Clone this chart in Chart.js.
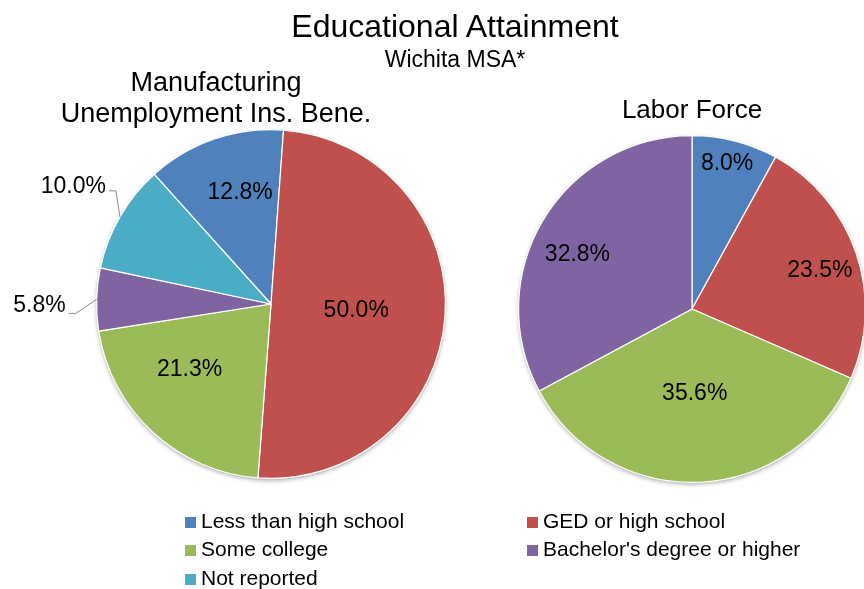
<!DOCTYPE html>
<html><head><meta charset="utf-8">
<script src="https://cdn.jsdelivr.net/npm/chart.js@4"></script>
<style>
html,body{margin:0;padding:0;background:#fff;width:864px;height:589px;overflow:hidden;position:relative;font-family:"Liberation Sans",Arial,Helvetica,sans-serif;color:#000}
canvas{position:absolute;left:0;top:0}
.t{position:absolute;white-space:nowrap;text-align:center}
.lg{position:absolute;white-space:nowrap;font-size:21px;line-height:28.5px;height:28.5px}
.sw{display:inline-block;width:11px;height:11px;margin-right:5px;vertical-align:0px}
</style></head><body>
<canvas id="c1" width="864" height="589"></canvas>
<canvas id="c2" width="900" height="589"></canvas>
<div id="texts"></div>
<script>
// ---- data ----
const categories = ["Less than high school", "GED or high school", "Some college", "Bachelor's degree or higher", "Not reported"];
const manufacturingValues = [12.8, 50.0, 21.3, 5.8, 10.0];
const laborForceValues = [8.0, 23.5, 35.6, 32.8];
const mainTitle = "Educational Attainment";
const subTitle = "Wichita MSA*";
const leftTitle = ["Manufacturing", "Unemployment Ins. Bene."];
const rightTitle = "Labor Force";

// ---- styles ----
const colors = ["#4F81BD", "#C0504D", "#9BBB59", "#8064A2", "#4BACC6"];
const FONT = '"Liberation Sans", Arial, Helvetica, sans-serif';

const texts = document.getElementById('texts');
function addText(txt, cx, top, size, lh) {
  const d = document.createElement('div');
  d.className = 't';
  d.style.left = (cx - 250) + 'px';
  d.style.width = '500px';
  d.style.top = top + 'px';
  d.style.fontSize = size + 'px';
  d.style.lineHeight = lh + 'px';
  d.innerHTML = txt;
  texts.appendChild(d);
}
addText(mainTitle, 455, 10, 32, 32);
addText(subTitle, 455, 47.5, 23, 23);
addText(leftTitle.join('<br>'), 216, 67, 27, 31);
addText(rightTitle, 692, 93.5, 26, 31);

// legend (two columns)
const legendCols = [185, 527];
const legendTop = 506.5;
categories.forEach((c, i) => {
  const d = document.createElement('div');
  d.className = 'lg';
  d.style.left = legendCols[i % 2] + 'px';
  d.style.top = (legendTop + Math.floor(i / 2) * 28.5) + 'px';
  d.innerHTML = '<span class="sw" style="background:' + colors[i] + '"></span>' + c;
  texts.appendChild(d);
});

const shadowPlugin = {
  id: 'pieShadow',
  beforeDatasetsDraw(chart) {
    const arc = chart.getDatasetMeta(0).data[0];
    const ctx = chart.ctx;
    ctx.save();
    ctx.shadowColor = 'rgba(0,0,0,0.35)';
    ctx.shadowBlur = 4;
    ctx.shadowOffsetY = 2;
    ctx.fillStyle = '#fff';
    ctx.beginPath();
    ctx.arc(arc.x, arc.y, arc.outerRadius, 0, Math.PI * 2);
    ctx.fill();
    ctx.restore();
  }
};

const labelPlugin = {
  id: 'sliceLabels',
  afterDatasetsDraw(chart, args, opts) {
    const ctx = chart.ctx;
    const meta = chart.getDatasetMeta(0);
    const ds = chart.data.datasets[0];
    ctx.save();
    ctx.font = '23px ' + FONT;
    ctx.fillStyle = '#000';
    meta.data.forEach((arc, i) => {
      const p = arc.getProps(['x', 'y', 'startAngle', 'endAngle', 'outerRadius'], true);
      const txt = ds.data[i].toFixed(1) + '%';
      const mid = (p.startAngle + p.endAngle) / 2;
      const out = opts.outside && opts.outside[i];
      if (out) {
        const ex = p.x + Math.cos(mid) * p.outerRadius;
        const ey = p.y + Math.sin(mid) * p.outerRadius;
        const bx = ex + out.dx, by = ey + out.dy;
        ctx.strokeStyle = '#8a8a8a';
        ctx.lineWidth = 1;
        ctx.beginPath();
        ctx.moveTo(ex, ey); ctx.lineTo(bx, by); ctx.lineTo(bx - 7, by);
        ctx.stroke();
        ctx.textAlign = 'right';
        ctx.textBaseline = 'middle';
        ctx.fillText(txt, bx - 10, by + out.ty);
      } else {
        const a = mid + (opts.shift[i] || 0) * Math.PI / 180;
        const r = p.outerRadius * opts.radial[i];
        ctx.textAlign = 'center';
        ctx.textBaseline = 'middle';
        ctx.fillText(txt, p.x + Math.cos(a) * r, p.y + Math.sin(a) * r);
      }
    });
    ctx.restore();
  }
};

function makePie(id, values, rotation, padding, labelOpts) {
  return new Chart(document.getElementById(id), {
    type: 'pie',
    data: {
      labels: categories.slice(0, values.length),
      datasets: [{
        data: values,
        backgroundColor: colors.slice(0, values.length),
        borderColor: '#ffffff',
        borderWidth: 1.2
      }]
    },
    options: {
      responsive: false,
      animation: false,
      rotation: rotation,
      layout: { padding: padding },
      plugins: {
        legend: { display: false },
        title: { display: false },
        tooltip: { enabled: false },
        sliceLabels: labelOpts
      }
    },
    plugins: [shadowPlugin, labelPlugin]
  });
}

makePie('c1', manufacturingValues, -42,
  { left: 96, top: 129, right: 418, bottom: 110 },
  {
    radial: [0.66, 0.49, 0.6, 0, 0],
    shift: [3.4, 0, 8.4, 0, 0],
    outside: [null, null, null, { dx: -21, dy: 14, ty: -8 }, { dx: -4, dy: -26, ty: -4 }]
  });

makePie('c2', laborForceValues, 0,
  { left: 518, top: 135, right: 34, bottom: 106 },
  {
    radial: [0.86, 0.77, 0.49, 0.73],
    shift: [-0.8, 2, 0.5, -5.7]
  });
</script>
</body></html>
